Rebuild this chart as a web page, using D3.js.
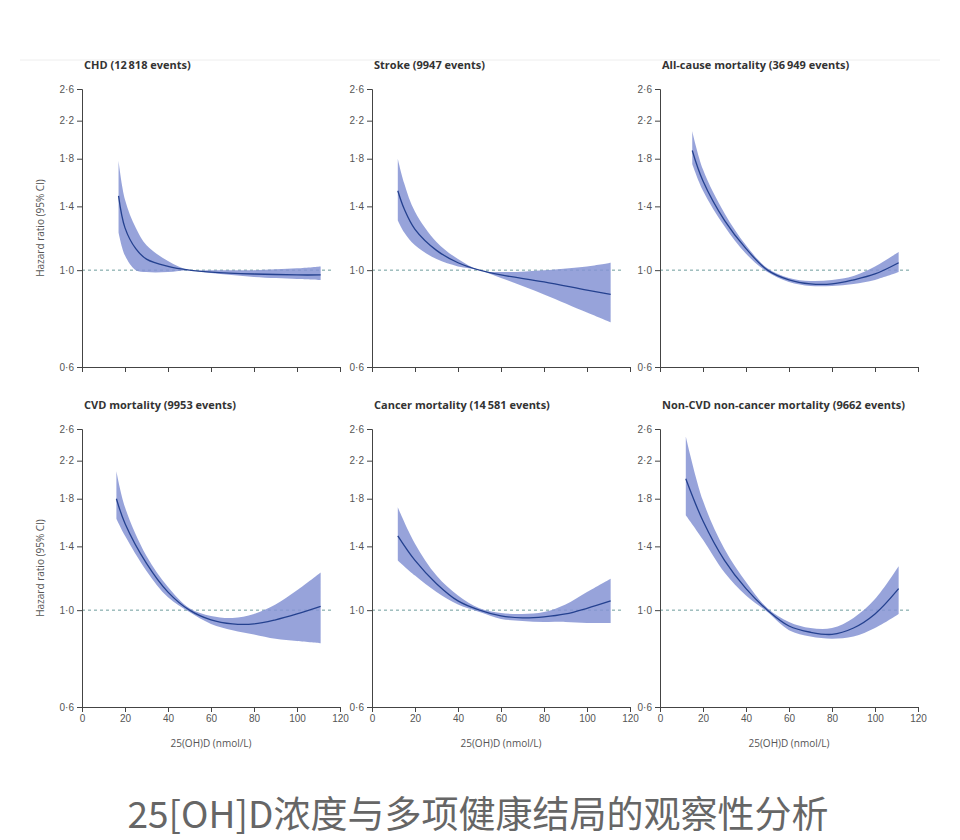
<!DOCTYPE html>
<html><head><meta charset="utf-8">
<script src="https://cdn.jsdelivr.net/npm/d3@7"></script>
<style>body{margin:0;background:#fff}svg{font-family:"Open Sans","Liberation Sans",sans-serif}</style>
</head><body><svg id="chart" width="960" height="840"></svg>
<script>
const titles = ['CHD (12\u2009818 events)', 'Stroke (9947 events)', 'All-cause mortality (36\u2009949 events)',
  'CVD mortality (9953 events)', 'Cancer mortality (14\u2009581 events)', 'Non-CVD non-cancer mortality (9662 events)'];
const xVals = [
  [17, 20, 25, 30, 40, 50, 60, 80, 100, 111],
  [12, 15, 20, 30, 40, 50, 60, 80, 100, 111],
  [15, 20, 30, 40, 50, 60, 70, 80, 90, 100, 111],
  [16, 20, 30, 40, 50, 60, 70, 80, 90, 100, 111],
  [12, 20, 30, 40, 50, 60, 70, 80, 90, 100, 111],
  [12, 20, 30, 40, 50, 60, 70, 80, 90, 100, 111]
];
const estimate = [
  [1.48, 1.25, 1.12, 1.06, 1.02, 1.0, 0.99, 0.98, 0.975, 0.975],
  [1.52, 1.38, 1.24, 1.11, 1.04, 1.0, 0.975, 0.94, 0.9, 0.88],
  [1.88, 1.6, 1.3, 1.12, 1.0, 0.95, 0.93, 0.93, 0.95, 0.98, 1.04],
  [1.8, 1.58, 1.28, 1.1, 1.0, 0.95, 0.93, 0.93, 0.95, 0.98, 1.02],
  [1.48, 1.3, 1.15, 1.05, 1.0, 0.97, 0.96, 0.965, 0.98, 1.01, 1.05],
  [2.0, 1.6, 1.3, 1.12, 1.0, 0.92, 0.89, 0.88, 0.91, 0.98, 1.12]
];
const lower = [
  [1.22, 1.08, 1.0, 0.99, 0.99, 1.0, 0.985, 0.965, 0.955, 0.95],
  [1.3, 1.22, 1.14, 1.06, 1.02, 1.0, 0.96, 0.88, 0.8, 0.76],
  [1.75, 1.52, 1.26, 1.09, 0.99, 0.94, 0.92, 0.92, 0.93, 0.95, 0.99],
  [1.62, 1.48, 1.23, 1.07, 0.99, 0.93, 0.9, 0.88, 0.86, 0.85, 0.84],
  [1.3, 1.2, 1.1, 1.03, 0.99, 0.955, 0.945, 0.94, 0.94, 0.935, 0.935],
  [1.65, 1.45, 1.22, 1.08, 0.99, 0.9, 0.87, 0.86, 0.87, 0.91, 0.98]
];
const upper = [
  [1.78, 1.45, 1.25, 1.14, 1.05, 1.0, 1.0, 1.0, 1.01, 1.02],
  [1.8, 1.58, 1.36, 1.16, 1.06, 1.0, 0.99, 1.0, 1.02, 1.04],
  [2.08, 1.7, 1.35, 1.14, 1.01, 0.96, 0.945, 0.95, 0.97, 1.02, 1.1],
  [2.08, 1.72, 1.33, 1.13, 1.01, 0.97, 0.96, 0.98, 1.03, 1.11, 1.22],
  [1.72, 1.42, 1.2, 1.08, 1.01, 0.985, 0.98, 0.99, 1.03, 1.1, 1.18],
  [2.5, 1.78, 1.38, 1.16, 1.01, 0.94, 0.91, 0.91, 0.96, 1.06, 1.26]
];
const yTicks = [0.6, 1.0, 1.4, 1.8, 2.2, 2.6];
const xTicks = [0, 20, 40, 60, 80, 100, 120];

const svg = d3.select('#chart');
svg.append('line').attr('x1', 20).attr('x2', 940).attr('y1', 60).attr('y2', 60)
  .attr('stroke', '#eee');

const colX = [82, 372, 660];
const rowY = [89, 429];
const pw = 258, ph = 278;

titles.forEach((title, i) => {
  const ox = colX[i % 3], oy = rowY[Math.floor(i / 3)];
  const g = svg.append('g').attr('transform', `translate(${ox},${oy})`);
  const x = d3.scaleLinear().domain([0, 120]).range([0, pw]);
  const y = d3.scaleLog().domain([0.6, 2.6]).range([ph, 0]);

  g.append('text').attr('x', 2).attr('y', -20).attr('font-size', 11).attr('font-weight', 'bold')
    .attr('fill', '#333').text(title);

  g.append('line').attr('x1', 0).attr('x2', x(108) + 18).attr('y1', y(1)).attr('y2', y(1))
    .attr('stroke', '#6d9c9c').attr('stroke-dasharray', '3,3');

  const pts = xVals[i].map((v, j) => ({ x: v, e: estimate[i][j], lo: lower[i][j], hi: upper[i][j] }));
  g.append('path').datum(pts)
    .attr('d', d3.area().curve(d3.curveCatmullRom).x(d => x(d.x)).y0(d => y(d.lo)).y1(d => y(d.hi)))
    .attr('fill', '#8593d4').attr('opacity', 0.85);
  g.append('path').datum(pts)
    .attr('d', d3.line().curve(d3.curveCatmullRom).x(d => x(d.x)).y(d => y(d.e)))
    .attr('fill', 'none').attr('stroke', '#24418f').attr('stroke-width', 1.3);

  const yAx = g.append('g').call(d3.axisLeft(y).tickValues(yTicks).tickSize(5)
    .tickFormat(d => d3.format('.1f')(d).replace('.', '\u00b7')));
  const xAx = g.append('g').attr('transform', `translate(0,${ph})`)
    .call(d3.axisBottom(x).tickValues(xTicks).tickSize(5).tickFormat(i >= 3 ? null : () => ''));
  [yAx, xAx].forEach(a => {
    a.select('.domain').attr('stroke', '#444');
    a.selectAll('line').attr('stroke', '#444');
    a.selectAll('text').attr('fill', '#555').attr('font-size', 10);
  });
  if (i >= 3) {
    g.append('text').attr('x', pw / 2).attr('y', ph + 40).attr('text-anchor', 'middle')
      .attr('font-size', 10).attr('fill', '#555').text('25(OH)D (nmol/L)');
  }
  if (i % 3 === 0) {
    g.append('text').attr('transform', `translate(-38,${ph / 2}) rotate(-90)`).attr('text-anchor', 'middle')
      .attr('font-size', 10).attr('fill', '#555').text('Hazard ratio (95% CI)');
  }
});

svg.append('text').attr('x', 478).attr('y', 828).attr('text-anchor', 'middle')
  .attr('font-family', '"Noto Sans CJK SC", sans-serif').attr('font-size', 37).attr('fill', '#666')
  .text('25[OH]D浓度与多项健康结局的观察性分析');
</script></body></html>
